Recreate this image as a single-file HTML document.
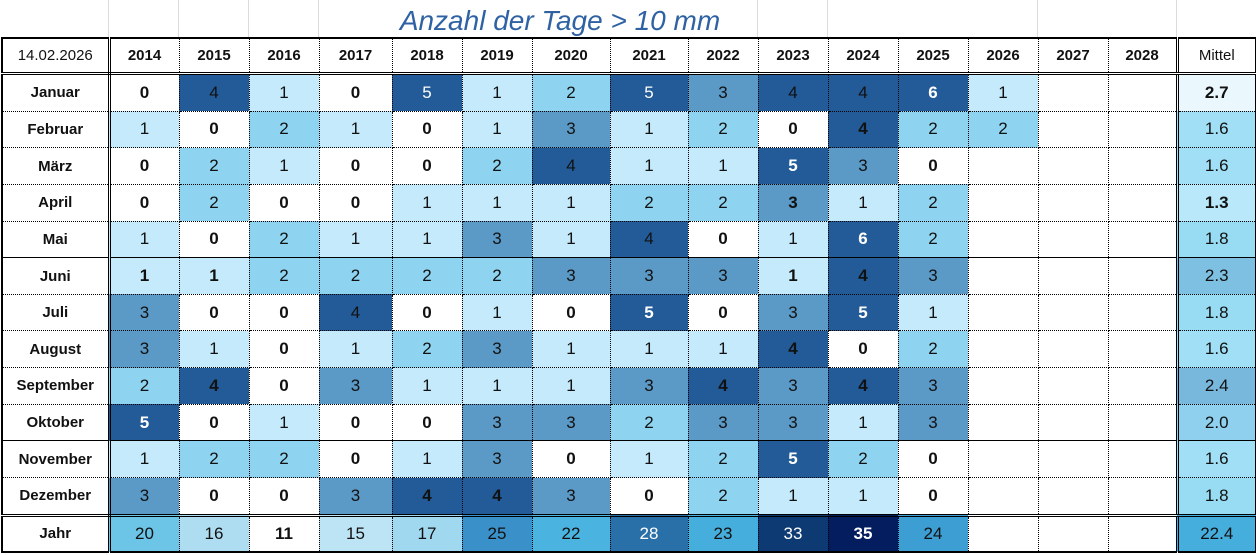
<!DOCTYPE html>
<html><head><meta charset="utf-8"><style>
body{margin:0;width:1256px;height:555px;background:#fff;position:relative;overflow:hidden;font-family:"Liberation Sans",Arial,sans-serif}
.g{position:absolute;top:0;height:37px;border-left:1px solid #dcdcdc}
.title{position:absolute;top:5px;left:0;width:1120px;text-align:center;font-style:italic;font-size:28px;color:#2f62a3}
table{position:absolute;left:1px;top:37px;border-collapse:collapse;table-layout:fixed;width:1254px}
td{border:1px dotted #000;text-align:center;font-size:17px;padding:0;height:35.65px;color:#111}
tr.h td{font-weight:bold;font-size:15px;height:33px;border-top:2px solid #000;border-bottom:3px double #000}
tr.h td.d{font-weight:normal;font-size:15px}
td.l{font-weight:bold;font-size:15px;border-right:3px double #000;border-left:2px solid #000}
td.m{border-left:3px double #000;border-right:2px solid #000}
tr.sol td{border-bottom:1px solid #000}
tr.last td{border-bottom:3px double #000}
tr.j td{height:34.5px;border-bottom:2px solid #000}
.b{font-weight:bold}.w{color:#fff}
.c1{background:#c4eafb}.c2{background:#8ed3f0}.c3{background:#5b9ac6}.c4{background:#225b97}
</style></head><body>
<div class="g" style="left:108px"></div><div class="g" style="left:178px"></div><div class="g" style="left:248px"></div><div class="g" style="left:318px"></div><div class="g" style="left:757px"></div><div class="g" style="left:827px"></div><div class="g" style="left:1037px"></div><div class="g" style="left:1176px"></div>
<div class="title">Anzahl der Tage &gt; 10 mm</div>
<table>
<colgroup><col style="width:107px"><col style="width:70px"><col style="width:70px"><col style="width:70px"><col style="width:73px"><col style="width:70px"><col style="width:70px"><col style="width:78px"><col style="width:78px"><col style="width:70px"><col style="width:70px"><col style="width:70px"><col style="width:70px"><col style="width:70px"><col style="width:70px"><col style="width:69px"><col style="width:79px"></colgroup>
<tr class="h"><td class="l d" style="font-weight:normal">14.02.2026</td><td>2014</td><td>2015</td><td>2016</td><td>2017</td><td>2018</td><td>2019</td><td>2020</td><td>2021</td><td>2022</td><td>2023</td><td>2024</td><td>2025</td><td>2026</td><td>2027</td><td>2028</td><td class="m d">Mittel</td></tr>
<tr><td class="l">Januar</td><td class="b">0</td><td class="c4">4</td><td class="c1">1</td><td class="b">0</td><td class="c4 w">5</td><td class="c1">1</td><td class="c2">2</td><td class="c4 w">5</td><td class="c3">3</td><td class="c4">4</td><td class="c4">4</td><td class="c4 w b">6</td><td class="c1">1</td><td></td><td></td><td class="m b" style="background:#eaf7fd">2.7</td></tr>
<tr><td class="l">Februar</td><td class="c1">1</td><td class="b">0</td><td class="c2">2</td><td class="c1">1</td><td class="b">0</td><td class="c1">1</td><td class="c3">3</td><td class="c1">1</td><td class="c2">2</td><td class="b">0</td><td class="c4 b">4</td><td class="c2">2</td><td class="c2">2</td><td></td><td></td><td class="m" style="background:#a0dff5">1.6</td></tr>
<tr><td class="l">März</td><td class="b">0</td><td class="c2">2</td><td class="c1">1</td><td class="b">0</td><td class="b">0</td><td class="c2">2</td><td class="c4">4</td><td class="c1">1</td><td class="c1">1</td><td class="c4 w b">5</td><td class="c3">3</td><td class="b">0</td><td></td><td></td><td></td><td class="m" style="background:#a0dff5">1.6</td></tr>
<tr><td class="l">April</td><td class="b">0</td><td class="c2">2</td><td class="b">0</td><td class="b">0</td><td class="c1">1</td><td class="c1">1</td><td class="c1">1</td><td class="c2">2</td><td class="c2">2</td><td class="c3 b">3</td><td class="c1">1</td><td class="c2">2</td><td></td><td></td><td></td><td class="m b" style="background:#b8e8f9">1.3</td></tr>
<tr class="sol"><td class="l">Mai</td><td class="c1">1</td><td class="b">0</td><td class="c2">2</td><td class="c1">1</td><td class="c1">1</td><td class="c3">3</td><td class="c1">1</td><td class="c4">4</td><td class="b">0</td><td class="c1">1</td><td class="c4 w b">6</td><td class="c2">2</td><td></td><td></td><td></td><td class="m" style="background:#98dcf4">1.8</td></tr>
<tr><td class="l">Juni</td><td class="c1 b">1</td><td class="c1 b">1</td><td class="c2">2</td><td class="c2">2</td><td class="c2">2</td><td class="c2">2</td><td class="c3">3</td><td class="c3">3</td><td class="c3">3</td><td class="c1 b">1</td><td class="c4 b">4</td><td class="c3">3</td><td></td><td></td><td></td><td class="m" style="background:#7ec0e2">2.3</td></tr>
<tr><td class="l">Juli</td><td class="c3">3</td><td class="b">0</td><td class="b">0</td><td class="c4">4</td><td class="b">0</td><td class="c1">1</td><td class="b">0</td><td class="c4 w b">5</td><td class="b">0</td><td class="c3">3</td><td class="c4 w b">5</td><td class="c1">1</td><td></td><td></td><td></td><td class="m" style="background:#98dcf4">1.8</td></tr>
<tr><td class="l">August</td><td class="c3">3</td><td class="c1">1</td><td class="b">0</td><td class="c1">1</td><td class="c2">2</td><td class="c3">3</td><td class="c1">1</td><td class="c1">1</td><td class="c1">1</td><td class="c4 b">4</td><td class="b">0</td><td class="c2">2</td><td></td><td></td><td></td><td class="m" style="background:#a0dff5">1.6</td></tr>
<tr><td class="l">September</td><td class="c2">2</td><td class="c4 b">4</td><td class="b">0</td><td class="c3">3</td><td class="c1">1</td><td class="c1">1</td><td class="c1">1</td><td class="c3">3</td><td class="c4 b">4</td><td class="c3">3</td><td class="c4 b">4</td><td class="c3">3</td><td></td><td></td><td></td><td class="m" style="background:#78b8dc">2.4</td></tr>
<tr class="sol"><td class="l">Oktober</td><td class="c4 w b">5</td><td class="b">0</td><td class="c1">1</td><td class="b">0</td><td class="b">0</td><td class="c3">3</td><td class="c3">3</td><td class="c2">2</td><td class="c3">3</td><td class="c3">3</td><td class="c1">1</td><td class="c3">3</td><td></td><td></td><td></td><td class="m" style="background:#8ed0ee">2.0</td></tr>
<tr><td class="l">November</td><td class="c1">1</td><td class="c2">2</td><td class="c2">2</td><td class="b">0</td><td class="c1">1</td><td class="c3">3</td><td class="b">0</td><td class="c1">1</td><td class="c2">2</td><td class="c4 w b">5</td><td class="c2">2</td><td class="b">0</td><td></td><td></td><td></td><td class="m" style="background:#a0dff5">1.6</td></tr>
<tr class="last"><td class="l">Dezember</td><td class="c3">3</td><td class="b">0</td><td class="b">0</td><td class="c3">3</td><td class="c4 b">4</td><td class="c4 b">4</td><td class="c3">3</td><td class="b">0</td><td class="c2">2</td><td class="c1">1</td><td class="c1">1</td><td class="b">0</td><td></td><td></td><td></td><td class="m" style="background:#98dcf4">1.8</td></tr>
<tr class="j"><td class="l">Jahr</td><td style="background:#6cc4e6">20</td><td style="background:#aeddf2">16</td><td class="b">11</td><td style="background:#bde4f5">15</td><td style="background:#a0d8f0">17</td><td style="background:#3a90c8">25</td><td style="background:#4bb3e0">22</td><td class="w" style="background:#2a70a8">28</td><td style="background:#45aedd">23</td><td class="w" style="background:#0e3a74">33</td><td class="w b" style="background:#031d5e">35</td><td style="background:#3d9ed3">24</td><td></td><td></td><td></td><td class="m" style="background:#45aedd">22.4</td></tr>
</table>
</body></html>
